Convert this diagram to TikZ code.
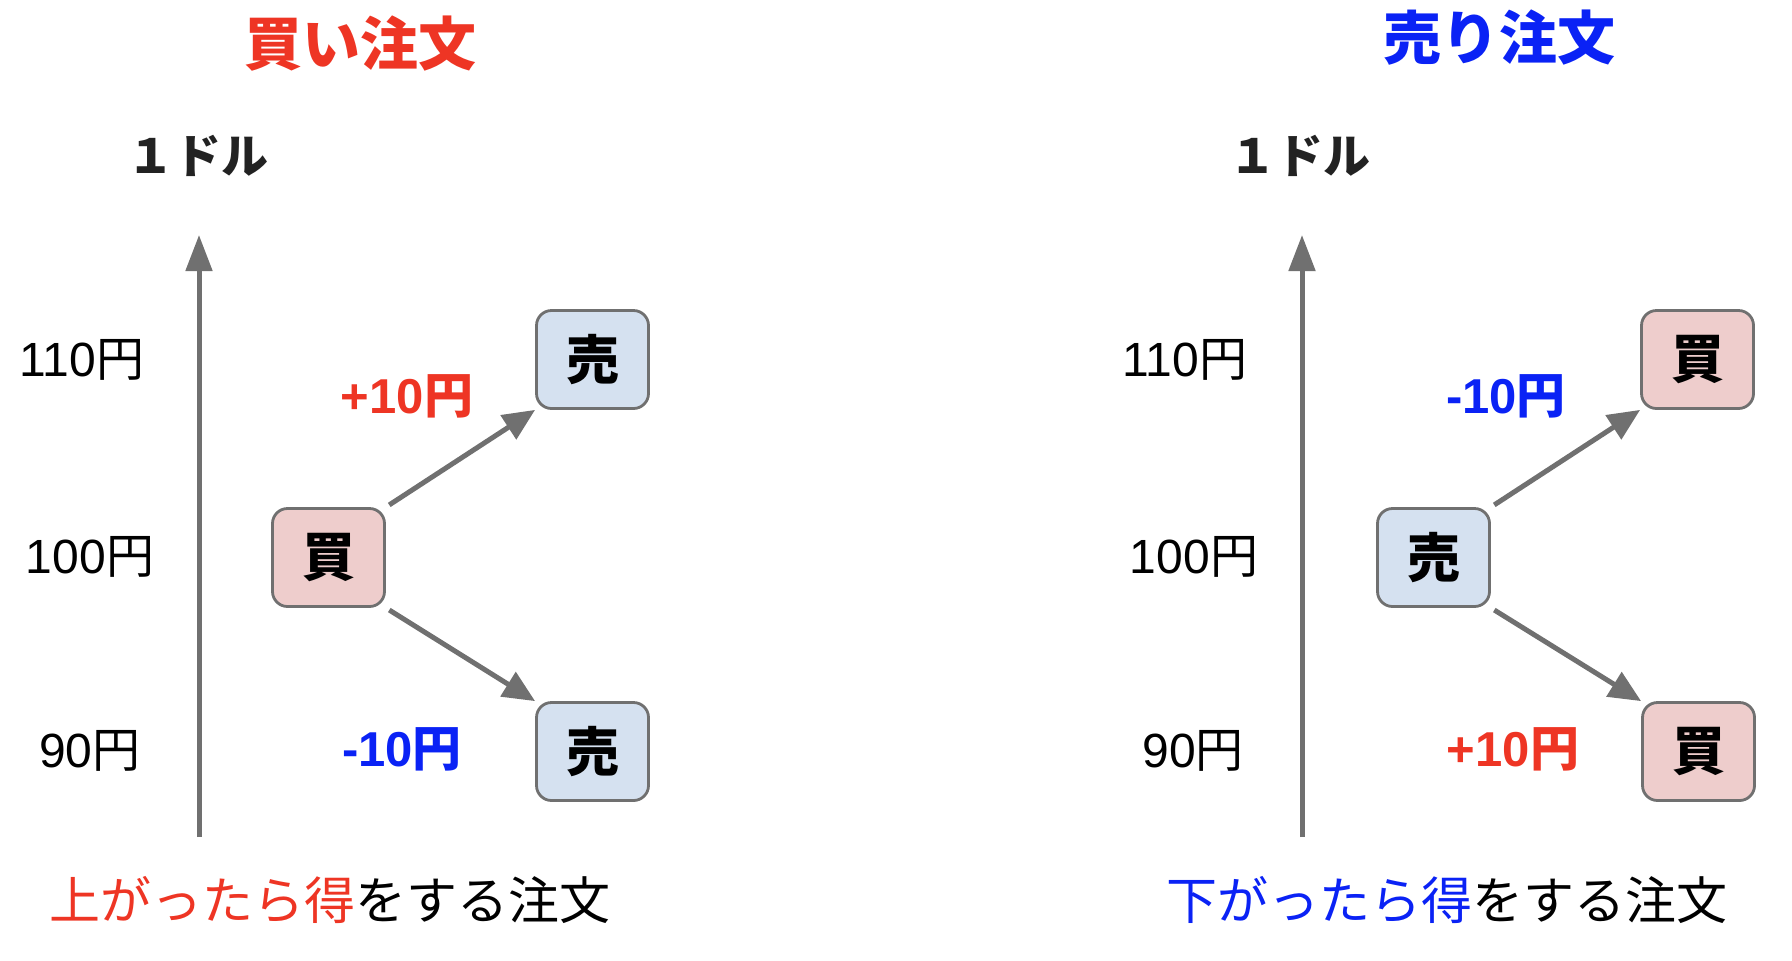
\documentclass[tikz,border=0pt]{standalone}
\usepackage{fontspec}
\setmainfont{Liberation Sans}
\newfontfamily\jp{Noto Sans CJK JP}
\usetikzlibrary{arrows.meta}
\definecolor{myred}{HTML}{EE3524}
\definecolor{myblue}{HTML}{0A22F5}
\definecolor{boxred}{HTML}{EECDCC}
\definecolor{boxblue}{HTML}{D5E1F0}
\definecolor{edgegray}{HTML}{707070}
\definecolor{txtdark}{HTML}{222222}
\begin{document}
\begin{tikzpicture}[x=0.5pt,y=-0.5pt,
  ordbox/.style={draw=edgegray, line width=1.4pt, rounded corners=7.5pt,
    minimum width=56pt, minimum height=49pt, inner sep=0pt,
    font=\jp\bfseries\fontsize{26.5}{26.5}\selectfont},
  buybox/.style={ordbox, fill=boxred},
  sellbox/.style={ordbox, fill=boxblue},
  pricelbl/.style={inner sep=0pt, font=\fontsize{24}{24}\selectfont},
  unitlbl/.style={inner sep=0pt, text=txtdark, font=\jp\bfseries\fontsize{23.5}{23.5}\selectfont},
  titlelbl/.style={inner sep=0pt, font=\jp\bfseries\fontsize{29}{29}\selectfont},
  difflbl/.style={inner sep=0pt, font=\bfseries\fontsize{24.5}{24.5}\selectfont},
  notelbl/.style={inner sep=0pt, font=\jp\fontsize{25.5}{25.5}\selectfont},
  conn/.style={draw=edgegray, line width=2.5pt, -{Triangle[length=16pt,width=14pt]}},
  axisline/.style={draw=edgegray, line width=2.5pt, -{Triangle[length=18pt,width=13pt]}}
]
\useasboundingbox (0,0) rectangle (1792,960);

% ---------- left: buy order ----------
\node[titlelbl, text=myred] (t1) at (360,44) {買い注文};
\node[unitlbl] (u1) at (198,156) {１ドル};
\coordinate (a1s) at (199,837);
\coordinate (a1e) at (199,235);
\draw[axisline] (a1s) -- (a1e);
\node[pricelbl] (p1a) at (82,360) {110{\jp 円}};
\node[pricelbl] (p1b) at (90,557) {100{\jp 円}};
\node[pricelbl] (p1c) at (90,751) {90{\jp 円}};
\node[buybox] (b1) at (328.5,557.5) {買};
\node[sellbox] (s1a) at (592.5,359.5) {売};
\node[sellbox] (s1b) at (592.5,751.5) {売};
\draw[conn, shorten <=2pt] (b1.north east) -- (s1a.south west);
\draw[conn, shorten <=2pt] (b1.south east) -- (s1b.north west);
\node[difflbl, text=myred] (d1a) at (407,396) {+10{\jp 円}};
\node[difflbl, text=myblue] (d1b) at (402,749) {-10{\jp 円}};
\node[notelbl] (n1) at (330,900) {\textcolor{myred}{上がったら得}をする注文};

% ---------- right: sell order ----------
\node[titlelbl, text=myblue] (t2) at (1499,38) {売り注文};
\node[unitlbl] (u2) at (1300,156) {１ドル};
\coordinate (a2s) at (1302,837);
\coordinate (a2e) at (1302,235);
\draw[axisline] (a2s) -- (a2e);
\node[pricelbl] (p2a) at (1185,360) {110{\jp 円}};
\node[pricelbl] (p2b) at (1194,557) {100{\jp 円}};
\node[pricelbl] (p2c) at (1193,751) {90{\jp 円}};
\node[sellbox] (b2) at (1433.5,557.5) {売};
\node[buybox] (s2a) at (1697.5,359.5) {買};
\node[buybox] (s2b) at (1698.5,751.5) {買};
\draw[conn, shorten <=2pt] (b2.north east) -- (s2a.south west);
\draw[conn, shorten <=2pt] (b2.south east) -- (s2b.north west);
\node[difflbl, text=myblue] (d2a) at (1506,396) {-10{\jp 円}};
\node[difflbl, text=myred] (d2b) at (1513,749) {+10{\jp 円}};
\node[notelbl] (n2) at (1447,900) {\textcolor{myblue}{下がったら得}をする注文};
\end{tikzpicture}
\end{document}
